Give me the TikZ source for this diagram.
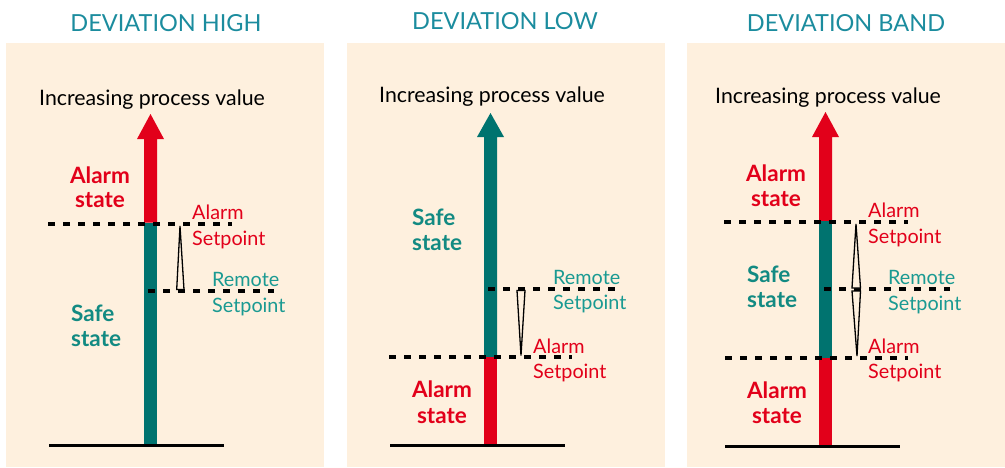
\documentclass[tikz,border=0pt]{standalone}
\usepackage{fontspec}
\setmainfont{Lato}
\definecolor{bg}{HTML}{FEF0DE}
\definecolor{alarmred}{HTML}{E2001A}
\definecolor{arrowteal}{HTML}{00736F}
\definecolor{labelteal}{HTML}{1A9A92}
\definecolor{safeteal}{HTML}{128A82}
\definecolor{titleteal}{HTML}{1B8C9E}
\tikzset{
  panel/.style={fill=bg, draw=none},
  ttl/.style={font=\fontsize{23.5}{25}\selectfont, text=titleteal, anchor=base, inner sep=0pt},
  axislabel/.style={font=\fontsize{21.3}{23}\selectfont, text=black, anchor=base west, inner sep=0pt},
  redlbl/.style={font=\fontsize{19.8}{21}\selectfont, text=alarmred, anchor=base west, inner sep=0pt},
  teallbl/.style={font=\fontsize{19.8}{21}\selectfont, text=labelteal, anchor=base west, inner sep=0pt},
  redstate/.style={font=\fontsize{22.5}{24}\selectfont\bfseries, text=alarmred, anchor=base, inner sep=0pt},
  safestate/.style={font=\fontsize{22.5}{24}\selectfont\bfseries, text=safeteal, anchor=base west, inner sep=0pt},
  setline/.style={draw=black, line width=4pt, dash pattern=on 6.5pt off 8.5pt},
  groundline/.style={draw=black, line width=3pt},
  hyst/.style={draw=black, line width=1.3pt, line join=miter, fill=bg},
}
\begin{document}
\begin{tikzpicture}[x=1pt, y=-1pt]
\useasboundingbox (0,0) rectangle (1005,467);
% panels
\fill[panel] (6,43) rectangle (324,467);
\fill[panel] (347,43) rectangle (665,467);
\fill[panel] (687,43) rectangle (1005,467);
% titles
\node[ttl] (t1) at (166,31) {DEVIATION HIGH};
\node[ttl] (t2) at (505,29) {DEVIATION LOW};
\node[ttl] (t3) at (846,31) {DEVIATION BAND};
% axis labels
\node[axislabel] (ax1) at (39,105) {Increasing process value};
\node[axislabel] (ax2) at (379,102) {Increasing process value};
\node[axislabel] (ax3) at (715,103) {Increasing process value};

% ---------- Panel 1 ----------
\fill[alarmred] (137,139) -- (150.5,114) -- (164,139) -- (157,139) -- (157,222.5) -- (144,222.5) -- (144,139) -- cycle;
\fill[arrowteal] (144,222.5) rectangle (157,444);
\coordinate (g1a) at (49,445); \coordinate (g1b) at (224,445);
\draw[groundline] (g1a) -- (g1b);
\coordinate (a1a) at (48,224); \coordinate (a1b) at (232,224);
\draw[setline] (a1a) -- (a1b);
\coordinate (r1a) at (148,291); \coordinate (r1b) at (274,291);
\draw[setline] (r1a) -- (r1b);
\draw[hyst] (180,226) -- (176.7,289.5) -- (184,289.5) -- cycle;
\node[redlbl] (l1a) at (192,219) {Alarm};
\node[redlbl] (l1b) at (192,245) {Setpoint};
\node[teallbl] (l1c) at (212,286) {Remote};
\node[teallbl] (l1d) at (212,312) {Setpoint};
\node[redstate] (s1a) at (100,183) {Alarm};
\node[redstate] (s1b) at (100,207) {state};
\node[safestate] (s1c) at (71,321) {Safe};
\node[safestate] (s1d) at (71,346) {state};

% ---------- Panel 2 ----------
\fill[arrowteal] (477,137) -- (490.5,113) -- (504,137) -- (497,137) -- (497,357) -- (484,357) -- (484,137) -- cycle;
\fill[alarmred] (484,357) rectangle (497,444);
\coordinate (g2a) at (390,445); \coordinate (g2b) at (565,445);
\draw[groundline] (g2a) -- (g2b);
\coordinate (r2a) at (488,289); \coordinate (r2b) at (615,289);
\draw[setline] (r2a) -- (r2b);
\coordinate (a2a) at (389,357); \coordinate (a2b) at (572,357);
\draw[setline] (a2a) -- (a2b);
\draw[hyst] (517,290.5) -- (525,290.5) -- (521,355.5) -- cycle;
\node[teallbl] (l2a) at (553,284) {Remote};
\node[teallbl] (l2b) at (553,309) {Setpoint};
\node[redlbl] (l2c) at (533,353) {Alarm};
\node[redlbl] (l2d) at (533,378) {Setpoint};
\node[safestate] (s2a) at (412,225) {Safe};
\node[safestate] (s2b) at (412,250) {state};
\node[redstate] (s2c) at (442,397) {Alarm};
\node[redstate] (s2d) at (442,423) {state};

% ---------- Panel 3 ----------
\fill[alarmred] (812,137) -- (825.5,112) -- (839,137) -- (832,137) -- (832,221) -- (819,221) -- (819,137) -- cycle;
\fill[arrowteal] (819,221) rectangle (832,358);
\fill[alarmred] (819,358) rectangle (832,445);
\coordinate (g3a) at (725,446); \coordinate (g3b) at (900,446);
\draw[groundline] (g3a) -- (g3b);
\coordinate (a3a) at (724,222); \coordinate (a3b) at (908,222);
\draw[setline] (a3a) -- (a3b);
\coordinate (r3a) at (824,289); \coordinate (r3b) at (950,289);
\draw[setline] (r3a) -- (r3b);
\coordinate (b3a) at (725,358); \coordinate (b3b) at (908,358);
\draw[setline] (b3a) -- (b3b);
\draw[hyst] (856,224) -- (852,288) -- (860.5,288) -- cycle;
\draw[hyst] (852,291) -- (860.5,291) -- (857,356) -- cycle;
\node[redlbl] (l3a) at (868,217) {Alarm};
\node[redlbl] (l3b) at (868,243) {Setpoint};
\node[teallbl] (l3c) at (888,284) {Remote};
\node[teallbl] (l3d) at (888,310) {Setpoint};
\node[redlbl] (l3e) at (868,353) {Alarm};
\node[redlbl] (l3f) at (868,378) {Setpoint};
\node[redstate] (s3a) at (776,181) {Alarm};
\node[redstate] (s3b) at (776,206) {state};
\node[safestate] (s3c) at (747,282) {Safe};
\node[safestate] (s3d) at (747,307) {state};
\node[redstate] (s3e) at (777,398) {Alarm};
\node[redstate] (s3f) at (777,423) {state};
\end{tikzpicture}
\end{document}
